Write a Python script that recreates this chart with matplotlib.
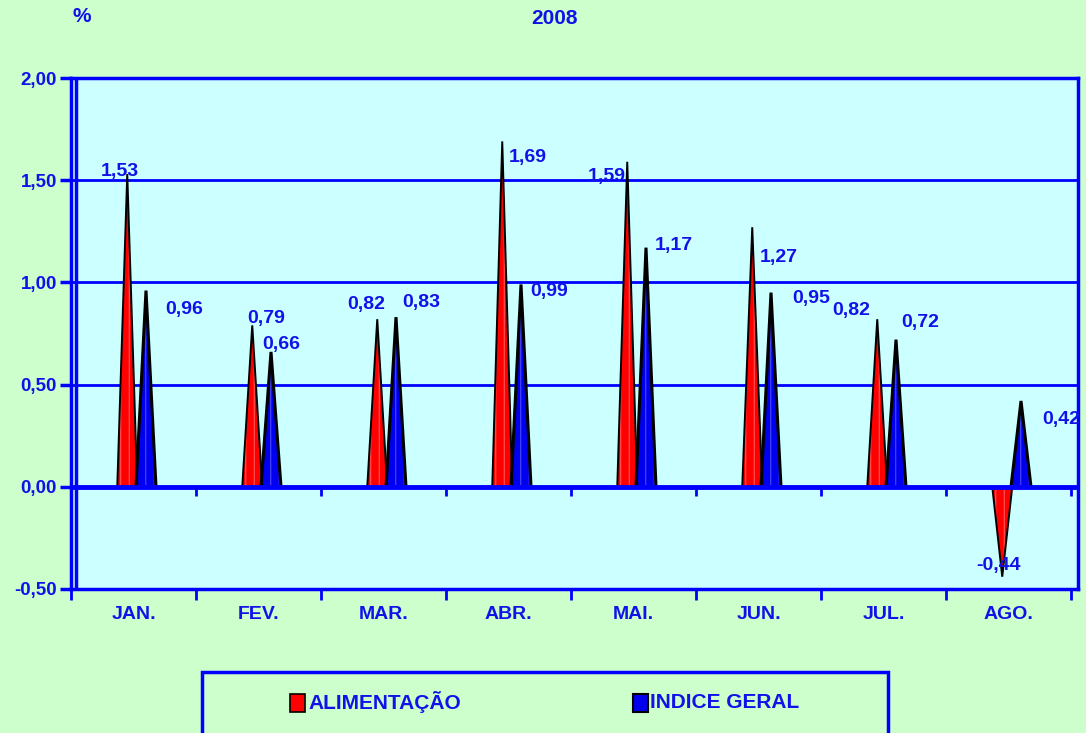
import numpy as np
import matplotlib
matplotlib.use('Agg')
import matplotlib.pyplot as plt
from matplotlib.patches import Polygon, Rectangle

months = ['JAN.', 'FEV.', 'MAR.', 'ABR.', 'MAI.', 'JUN.', 'JUL.', 'AGO.']
alimentacao = [1.53, 0.79, 0.82, 1.69, 1.59, 1.27, 0.82, -0.44]
indice_geral = [0.96, 0.66, 0.83, 0.99, 1.17, 0.95, 0.72, 0.42]
yticks = [-0.5, 0.0, 0.5, 1.0, 1.5, 2.0]
ytick_labels = ['-0,50', '0,00', '0,50', '1,00', '1,50', '2,00']

# label offsets in pixels (dx, dy up), one per point
off_alim = [(-7, 3), (14, 7), (-11, 15), (26, -16), (-21, -15), (26, -30), (-26, 9), (-4, 11)]
off_ind = [(38, -19), (10, 7), (25, 15), (28, -7), (28, 2), (40, -6), (24, 17), (40, -19)]

BLUE = '#0000ff'
TXT = '#1212e8'
GREEN_BG = '#ccffcc'
CYAN_BG = '#ccffff'
W, H = 1086, 733

plt.rcParams['font.family'] = ['Liberation Sans', 'DejaVu Sans']
plt.rcParams['font.weight'] = 'bold'
plt.rcParams['hatch.linewidth'] = 0.5

fig = plt.figure(figsize=(W / 100, H / 100), dpi=100, facecolor=GREEN_BG)

def fx(px):
    return px / W

def fy(py):
    return 1 - py / H

left, right, top, bottom = 71, 1078, 78, 589
ax = fig.add_axes([fx(left), fy(bottom), fx(right - left), fy(top) - fy(bottom)])
ax.set_facecolor(CYAN_BG)
ncat = len(months)
ax.set_xlim(0, (right - left) / 125.0)
ax.set_ylim(-0.5, 2.0)

for s in ax.spines.values():
    s.set_color(BLUE)
    s.set_linewidth(2.5)

# grid lines
for y in [0.5, 1.0, 1.5]:
    ax.axhline(y, color=BLUE, lw=2, zorder=1)
ax.axvline(0.04, color=BLUE, lw=2.5, zorder=1)

# y ticks
ax.set_yticks(yticks)
ax.set_yticklabels(ytick_labels)
ax.tick_params(axis='y', colors=BLUE, labelcolor=TXT, length=8, width=2.5,
               direction='out', pad=2, labelsize=13.5)

# x ticks at category boundaries, labels at centers
ax.set_xticks(np.arange(ncat + 1))
ax.set_xticklabels([])
ax.tick_params(axis='x', which='major', colors=BLUE, length=8, width=2, direction='out')
centers = np.arange(ncat) + 0.5
ax.set_xticks(centers, minor=True)
ax.set_xticklabels(months, minor=True)
ax.tick_params(axis='x', which='minor', length=0, pad=12, labelcolor=TXT, labelsize=14)

hw = 0.08
def cone(xc, val, face, hatchc, elw):
    pts = [(xc - hw, 0), (xc, val), (xc + hw, 0)]
    ax.add_patch(Polygon(pts, closed=True, facecolor=face, edgecolor=hatchc,
                         lw=0, hatch='||', zorder=3))
    ax.add_patch(Polygon(pts, closed=False, fill=False, edgecolor='black',
                         lw=elw, zorder=4, joinstyle='miter'))

for i in range(ncat):
    xr = centers[i] - 0.05
    xb = centers[i] + 0.1
    cone(xr, alimentacao[i], '#ff0000', '#ff8888', 1.4)
    cone(xb, indice_geral[i], '#0000ee', '#7777ff', 2.2)
    ax.annotate(f'{alimentacao[i]:.2f}'.replace('.', ','), (xr, alimentacao[i]),
                xytext=off_alim[i], textcoords='offset pixels', ha='center', va='center',
                color=TXT, fontsize=14, fontweight='bold', zorder=6)
    ax.annotate(f'{indice_geral[i]:.2f}'.replace('.', ','), (xb, indice_geral[i]),
                xytext=off_ind[i], textcoords='offset pixels', ha='center', va='center',
                color=TXT, fontsize=14, fontweight='bold', zorder=6)

# zero line with small tick marks
ax.axhline(0, color=BLUE, lw=3.5, zorder=5)
ax.vlines(np.arange(1, ncat + 1), -0.045, 0, color=BLUE, lw=2, zorder=5)

# header texts
fig.text(fx(82), fy(17), '%', color=TXT, fontsize=15, ha='center', va='center', fontweight='bold')
fig.text(fx(555), fy(18), '2008', color=TXT, fontsize=15, ha='center', va='center', fontweight='bold')

# legend box
fig.patches.append(Rectangle((fx(202), fy(745)), fx(888 - 202), fy(672) - fy(745),
                             transform=fig.transFigure, facecolor=GREEN_BG,
                             edgecolor=BLUE, lw=2.5))
fig.patches.append(Rectangle((fx(290), fy(712)), fx(15), fy(694) - fy(712),
                             transform=fig.transFigure, facecolor='#ff0000',
                             edgecolor='black', lw=1.2))
fig.patches.append(Rectangle((fx(633), fy(712)), fx(15), fy(694) - fy(712),
                             transform=fig.transFigure, facecolor='#0000ee',
                             edgecolor='black', lw=1.5))
fig.text(fx(308), fy(702), 'ALIMENTAÇÃO', color=TXT, fontsize=15, ha='left', va='center',
         fontweight='bold')
fig.text(fx(650), fy(702), 'INDICE GERAL', color=TXT, fontsize=15, ha='left', va='center',
         fontweight='bold')

fig.savefig('out.png', dpi=100, facecolor=GREEN_BG)
